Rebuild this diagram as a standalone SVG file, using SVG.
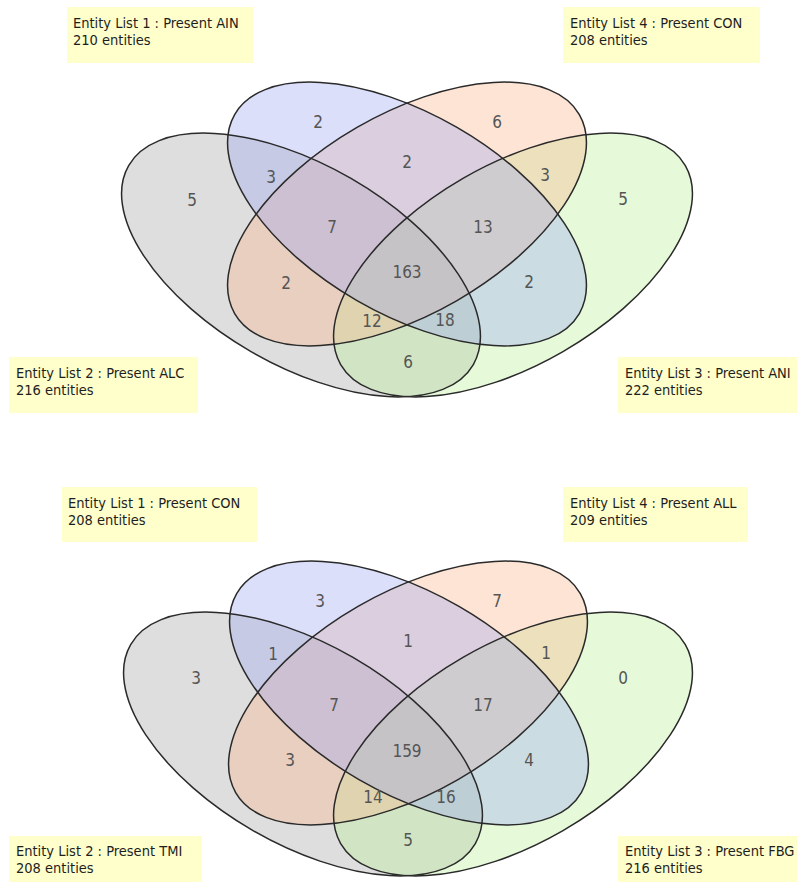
<svg xmlns="http://www.w3.org/2000/svg" width="797" height="882" viewBox="0 0 797 882">
<style>
.f{stroke:none;fill-opacity:0.36}
.gray{fill:#a3a3a3}
.green{fill:#baf198}
.orange{fill:#f9b48a}
.blue{fill:#9ba6f1}
.o{fill:none;stroke:#2a2a2a;stroke-width:1.5}
.box{fill:#ffffcc}
.lbl{font-family:"DejaVu Sans Condensed","DejaVu Sans",sans-serif;font-stretch:condensed;font-size:14.5px;fill:#1e1e1e}
.num{font-family:"DejaVu Sans Condensed","DejaVu Sans",sans-serif;font-stretch:condensed;font-size:17px;fill:#555;text-anchor:middle}
</style>
<defs>
<ellipse id="e" cx="0" cy="0" rx="199" ry="100"/>
</defs>
<rect width="797" height="882" fill="#ffffff"/>

<!-- TOP DIAGRAM -->
<g id="top">
<g id="top-set2"><use href="#e" class="f gray" transform="translate(301 265) rotate(30)"/></g>
<g id="top-set3"><use href="#e" class="f green" transform="translate(513 265) rotate(-30)"/></g>
<g id="top-set4"><use href="#e" class="f orange" transform="translate(407 214) rotate(-30)"/></g>
<g id="top-set1"><use href="#e" class="f blue" transform="translate(407 214) rotate(30)"/></g>
<g id="top-outlines">
<use href="#e" class="o" transform="translate(301 265) rotate(30)"/>
<use href="#e" class="o" transform="translate(513 265) rotate(-30)"/>
<use href="#e" class="o" transform="translate(407 214) rotate(-30)"/>
<use href="#e" class="o" transform="translate(407 214) rotate(30)"/>
</g>
<g id="top-counts" class="num">
<text x="192" y="206">5</text>
<text x="318" y="128">2</text>
<text x="271" y="183">3</text>
<text x="407" y="168">2</text>
<text x="497" y="128">6</text>
<text x="545" y="181">3</text>
<text x="623" y="205">5</text>
<text x="332" y="233">7</text>
<text x="483" y="233">13</text>
<text x="407" y="278">163</text>
<text x="286" y="289">2</text>
<text x="529" y="288">2</text>
<text x="372" y="327">12</text>
<text x="445" y="326">18</text>
<text x="408" y="368">6</text>
</g>
<g id="top-label1"><rect class="box" x="67" y="7" width="186" height="56"/><text class="lbl" x="73" y="28">Entity List 1 : Present AIN</text><text class="lbl" x="73" y="45">210 entities</text></g>
<g id="top-label4"><rect class="box" x="563" y="7" width="197" height="56"/><text class="lbl" x="570" y="28">Entity List 4 : Present CON</text><text class="lbl" x="570" y="45">208 entities</text></g>
<g id="top-label2"><rect class="box" x="9" y="357" width="189" height="56"/><text class="lbl" x="16" y="378">Entity List 2 : Present ALC</text><text class="lbl" x="16" y="395">216 entities</text></g>
<g id="top-label3"><rect class="box" x="618" y="357" width="179" height="56"/><text class="lbl" x="625" y="378">Entity List 3 : Present ANI</text><text class="lbl" x="625" y="395">222 entities</text></g>
</g>

<!-- BOTTOM DIAGRAM -->
<g id="bottom">
<g id="bot-set2"><use href="#e" class="f gray" transform="translate(303 744) rotate(30)"/></g>
<g id="bot-set3"><use href="#e" class="f green" transform="translate(513 744) rotate(-30)"/></g>
<g id="bot-set4"><use href="#e" class="f orange" transform="translate(408 693) rotate(-30)"/></g>
<g id="bot-set1"><use href="#e" class="f blue" transform="translate(409 693) rotate(30)"/></g>
<g id="bot-outlines">
<use href="#e" class="o" transform="translate(303 744) rotate(30)"/>
<use href="#e" class="o" transform="translate(513 744) rotate(-30)"/>
<use href="#e" class="o" transform="translate(408 693) rotate(-30)"/>
<use href="#e" class="o" transform="translate(409 693) rotate(30)"/>
</g>
<g id="bot-counts" class="num">
<text x="196" y="684">3</text>
<text x="320" y="607">3</text>
<text x="273" y="660">1</text>
<text x="408" y="647">1</text>
<text x="497" y="607">7</text>
<text x="546" y="659">1</text>
<text x="623" y="684">0</text>
<text x="334" y="711">7</text>
<text x="483" y="711">17</text>
<text x="407" y="757">159</text>
<text x="290" y="766">3</text>
<text x="529" y="766">4</text>
<text x="373" y="803">14</text>
<text x="446" y="803">16</text>
<text x="408" y="846">5</text>
</g>
<g id="bot-label1"><rect class="box" x="62" y="487" width="195" height="55"/><text class="lbl" x="68" y="508">Entity List 1 : Present CON</text><text class="lbl" x="68" y="525">208 entities</text></g>
<g id="bot-label4"><rect class="box" x="563" y="487" width="185" height="55"/><text class="lbl" x="570" y="508">Entity List 4 : Present ALL</text><text class="lbl" x="570" y="525">209 entities</text></g>
<g id="bot-label2"><rect class="box" x="9" y="836" width="193" height="46"/><text class="lbl" x="16" y="856">Entity List 2 : Present TMI</text><text class="lbl" x="16" y="873">208 entities</text></g>
<g id="bot-label3"><rect class="box" x="618" y="836" width="179" height="46"/><text class="lbl" x="625" y="856">Entity List 3 : Present FBG</text><text class="lbl" x="625" y="873">216 entities</text></g>
</g>
</svg>
